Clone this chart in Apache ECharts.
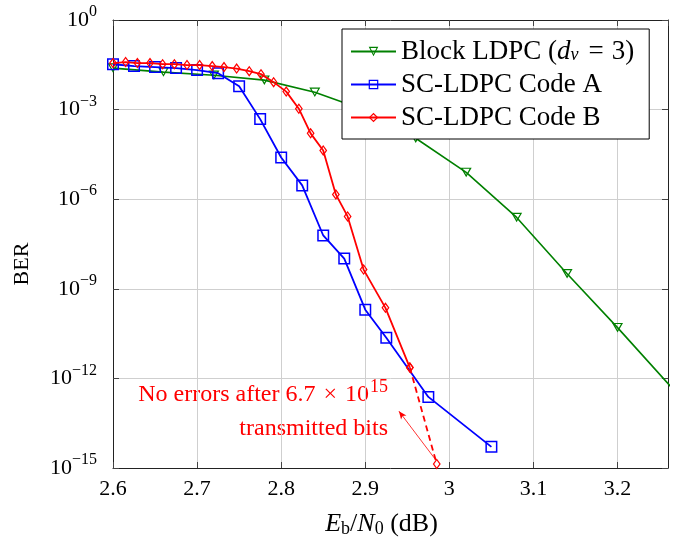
<!DOCTYPE html>
<html>
<head>
<meta charset="utf-8">
<script src="https://cdn.jsdelivr.net/npm/echarts@6/dist/echarts.min.js"></script>
<style>
html, body { margin: 0; padding: 0; background: #fff; }
#berChart { width: 679px; height: 540px; }
</style>
</head>
<body>
<div id="berChart"></div>
<script>
// Eb/N0 (dB) and BER
var blockX = [2.6, 2.66, 2.72, 2.78, 2.84, 2.9, 2.96, 3.02, 3.08, 3.14, 3.2, 3.32];
var blockBER = [2.45e-2, 1.8e-2, 1.42e-2, 9.7e-3, 3.8e-3, 9.5e-4, 1.1e-4, 7.9e-6, 2.45e-7, 3.2e-9, 5e-11, 9e-15];

var codeAX = [2.6, 2.625, 2.65, 2.675, 2.7, 2.725, 2.75, 2.775, 2.8, 2.825, 2.85, 2.875, 2.9, 2.925, 2.975, 3.05];
var codeABER = [3.3e-2, 2.86e-2, 2.65e-2, 2.45e-2, 2.1e-2, 1.66e-2, 6.1e-3, 4.8e-4, 2.5e-5, 2.9e-6, 6.1e-8, 1.03e-8, 2.0e-10, 2.3e-11, 2.4e-13, 5.1e-15];

var codeBX = [2.6, 2.615, 2.629, 2.644, 2.659, 2.673, 2.688, 2.703, 2.718, 2.732, 2.747, 2.762,
    2.776, 2.791, 2.806, 2.821, 2.835, 2.85, 2.865, 2.879, 2.898, 2.924, 2.953];
var codeBBER = [3.6e-2, 3.9e-2, 3.6e-2, 3.6e-2, 3.33e-2, 3.33e-2, 3.1e-2, 3.1e-2, 2.86e-2, 2.65e-2, 2.36e-2, 1.94e-2,
    1.54e-2, 8.3e-3, 4.0e-3, 1.07e-3, 1.6e-4, 4.3e-5, 1.45e-6, 2.65e-7, 4.4e-9, 2.3e-10, 2.3e-12];
// last measured point -> no-error point (dashed)
var codeBTailX = [2.953, 2.985];
var codeBTailBER = [2.3e-12, 1.36e-15];

var xTicks = [2.6, 2.7, 2.8, 2.9, 3, 3.1, 3.2];
var yTickExp = [0, -3, -6, -9, -12, -15];

var serif = '"Liberation Serif", "DejaVu Serif", serif';
var blockName = 'Block LDPC (d_v = 3)';

function pairs(xs, ys) {
    var out = [];
    for (var i = 0; i < xs.length; i++) {
        out.push([xs[i], ys[i]]);
    }
    return out;
}

// hollow markers (outline only, line shows through)
var squareMark = 'path://M0,0L12,0L12,12L0,12Z M1.5,1.5L1.5,10.5L10.5,10.5L10.5,1.5Z';
var diamondMark = 'path://M4,0L8,5.5L4,11L0,5.5Z M4,2.04L1.49,5.5L4,8.96L6.51,5.5Z';
var triangleMark = 'path://M0,0L11,0L5.5,9.5Z M2.08,1.2L5.5,7.13L8.92,1.2Z';

var supRich = {
    b: { fontFamily: serif, fontSize: 22, color: '#000' },
    s: { fontFamily: serif, fontSize: 16, color: '#000', padding: [0, 0, 16, 0] }
};

var berChart = echarts.init(document.getElementById('berChart'));

var option = {
    animation: false,
    backgroundColor: '#fff',
    grid: {
        left: 113,
        right: 11,
        top: 20,
        bottom: 72,
        outerBoundsMode: 'none'
    },
    legend: {
        data: [blockName, 'SC-LDPC Code A', 'SC-LDPC Code B'],
        orient: 'vertical',
        left: 342,
        top: 29,
        backgroundColor: '#fff',
        borderColor: '#000',
        borderWidth: 1,
        borderRadius: 0,
        padding: [9, 15, 8, 8],
        itemGap: 6,
        itemWidth: 45,
        itemHeight: 12,
        textStyle: {
            fontFamily: serif,
            fontSize: 27,
            lineHeight: 27,
            color: '#000',
            rich: {
                i: { fontFamily: serif, fontSize: 27, lineHeight: 27, fontStyle: 'italic', color: '#000' },
                sub: { fontFamily: serif, fontSize: 18, lineHeight: 18, fontStyle: 'italic', color: '#000', padding: [8, 2, 0, 0] },
                eq: { fontFamily: serif, fontSize: 27, lineHeight: 27, color: '#000', padding: [0, 8, 0, 8] }
            }
        },
        formatter: function (name) {
            if (name === blockName) {
                return 'Block LDPC ({i|d}{sub|v}{eq|=}3)';
            }
            return name;
        }
    },
    xAxis: [{
        type: 'value',
        min: 2.6,
        max: 3.26,
        interval: 0.1,
        name: '{i|E}{sub|b}{n|/}{i|N}{sub|0}{n| (dB)}',
        nameLocation: 'middle',
        nameGap: 42,
        nameTextStyle: {
            padding: [0, 18, 0, 0],
            rich: {
                i: { fontFamily: serif, fontSize: 26, fontStyle: 'italic', color: '#000' },
                n: { fontFamily: serif, fontSize: 26, color: '#000' },
                sub: { fontFamily: serif, fontSize: 18, color: '#000', padding: [10, 0, 0, 0] }
            }
        },
        axisLine: { onZero: false, lineStyle: { color: '#222', width: 1 } },
        axisTick: { inside: true, length: 6, lineStyle: { color: '#444' } },
        axisLabel: {
            margin: 10,
            fontFamily: serif,
            fontSize: 22,
            color: '#000',
            showMaxLabel: false,
            formatter: function (v) {
                var r = Math.round(v * 10) / 10;
                return xTicks.indexOf(r) >= 0 ? String(r) : '';
            }
        },
        splitLine: { show: true, lineStyle: { color: '#cfcfcf', width: 1 } }
    }, {
        type: 'value',
        position: 'top',
        min: 2.6,
        max: 3.26,
        interval: 0.1,
        axisLine: { onZero: false, lineStyle: { color: '#222', width: 1 } },
        axisTick: { inside: true, length: 6, lineStyle: { color: '#444' } },
        axisLabel: { show: false },
        splitLine: { show: false }
    }],
    yAxis: [{
        type: 'log',
        logBase: 10,
        min: 1e-15,
        max: 1,
        interval: 3,
        name: 'BER',
        nameLocation: 'middle',
        nameGap: 80,
        nameTextStyle: { fontFamily: serif, fontSize: 22, color: '#000', padding: [0, 40, 0, 0] },
        axisLine: { lineStyle: { color: '#222', width: 1 } },
        axisTick: { inside: true, length: 6, lineStyle: { color: '#444' } },
        minorTick: { show: false },
        axisLabel: {
            margin: 16,
            rich: supRich,
            formatter: function (v) {
                var e = Math.round(Math.log(v) / Math.LN10);
                if (yTickExp.indexOf(e) < 0) return '';
                return '{b|10}{s|' + String(e).replace('-', '\u2212') + '}';
            }
        },
        splitLine: { show: true, lineStyle: { color: '#cfcfcf', width: 1 } }
    }, {
        type: 'log',
        logBase: 10,
        min: 1e-15,
        max: 1,
        interval: 3,
        position: 'right',
        axisLine: { show: true, lineStyle: { color: '#222', width: 1 } },
        axisTick: { show: true, inside: true, length: 6, lineStyle: { color: '#444' } },
        axisLabel: { show: false },
        splitLine: { show: false }
    }],
    series: [{
        name: blockName,
        type: 'line',
        data: pairs(blockX, blockBER),
        symbol: triangleMark,
        symbolSize: [11, 9.5],
        lineStyle: { color: '#008000', width: 1.6 },
        itemStyle: { color: '#008000' },
        z: 2
    }, {
        name: 'SC-LDPC Code A',
        type: 'line',
        data: pairs(codeAX, codeABER),
        symbol: squareMark,
        symbolSize: [12, 12],
        lineStyle: { color: '#0000ff', width: 1.8 },
        itemStyle: { color: '#0000ff' },
        z: 3
    }, {
        name: 'SC-LDPC Code B',
        type: 'line',
        data: pairs(codeBX, codeBBER),
        symbol: diamondMark,
        symbolSize: [8, 11],
        lineStyle: { color: '#ff0000', width: 1.8 },
        itemStyle: { color: '#ff0000' },
        z: 4
    }, {
        name: 'SC-LDPC Code B tail',
        type: 'line',
        data: pairs(codeBTailX, codeBTailBER),
        symbol: diamondMark,
        symbolSize: [8, 11],
        lineStyle: { color: '#ff0000', width: 1.8, type: [6, 4] },
        itemStyle: { color: '#ff0000' },
        z: 4,
        markLine: {
            silent: true,
            symbol: ['none', 'arrow'],
            symbolSize: [5, 8],
            label: { show: false },
            lineStyle: { color: '#ff0000', width: 0.8, type: 'solid' },
            data: [[{ coord: [2.983, 2e-15] }, { coord: [2.94, 8e-14] }]]
        }
    }],
    graphic: [{
        type: 'text',
        x: 388,
        y: 395,
        style: {
            text: '{t|No errors after 6.7}{m|\u00d7}{t|10}{s|15}',
            align: 'right',
            verticalAlign: 'middle',
            rich: {
                t: { fontFamily: serif, fontSize: 24, fill: '#ff0000' },
                m: { fontFamily: serif, fontSize: 24, fill: '#ff0000', padding: [0, 8, 0, 8] },
                s: { fontFamily: serif, fontSize: 18, fill: '#ff0000', padding: [0, 0, 16, 1] }
            }
        }
    }, {
        type: 'text',
        x: 388,
        y: 429,
        style: {
            text: 'transmitted bits',
            align: 'right',
            verticalAlign: 'middle',
            fontFamily: serif,
            fontSize: 24,
            fill: '#ff0000'
        }
    }]
};

berChart.setOption(option);
</script>
</body>
</html>
